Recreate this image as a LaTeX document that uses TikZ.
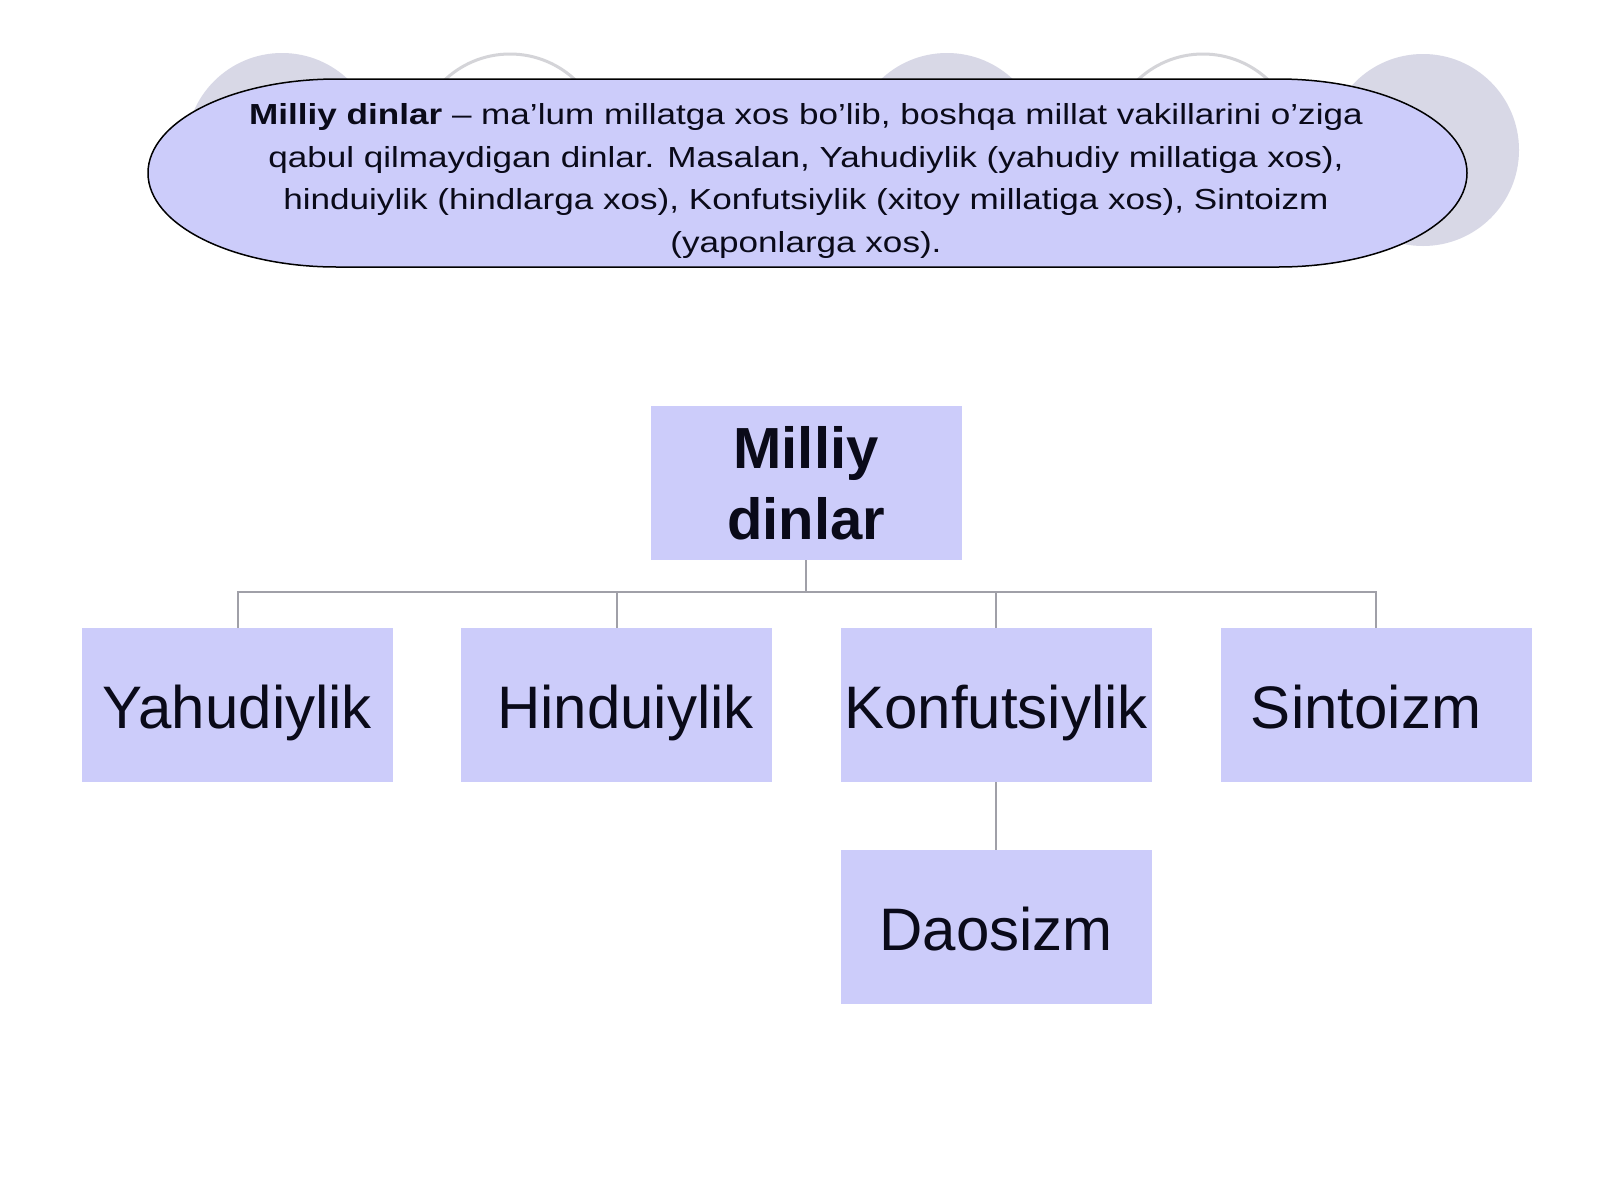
\documentclass[tikz,border=0pt]{standalone}
\usepackage{fontspec}
\setmainfont{Liberation Sans}
\newfontfamily\widefont[FakeStretch=1.21]{Liberation Sans}
\definecolor{boxfill}{RGB}{204,204,250}
\definecolor{circfill}{RGB}{216,216,230}
\definecolor{circline}{RGB}{212,212,216}
\definecolor{connc}{RGB}{160,160,168}
\definecolor{txt}{RGB}{10,10,25}
\begin{document}
\begin{tikzpicture}[x=1pt,y=-1pt,
  boxnode/.style={fill=boxfill, minimum width=311pt, minimum height=154pt, inner sep=0pt,
     text=txt, font=\fontsize{60}{72}\selectfont, text height=47pt, text depth=0pt},
  conn/.style={draw=connc, line width=2pt},
  bgcircfill/.style={fill=circfill},
  bgcircline/.style={draw=circline, line width=3pt}]
\useasboundingbox[fill=white] (0,0) rectangle (1600,1200);
% background circles
\fill[bgcircfill] (282,149) circle (96);
\draw[bgcircline] (510,149) circle (95);
\fill[bgcircfill] (947,149) circle (96);
\draw[bgcircline] (1203,149) circle (95);
\fill[bgcircfill] (1423,150) circle (96);
% oval banner
\draw[fill=boxfill, draw=black, line width=1.5pt]
  (337,79) -- (1278,79) arc[start angle=-90, end angle=90, x radius=189, y radius=94]
  -- (337,267) arc[start angle=90, end angle=270, x radius=189, y radius=94] -- cycle;
\node[anchor=center, align=center, text=txt, font=\widefont\fontsize{29}{42.8}\selectfont, inner sep=0pt] (def) at (806,181)
  {\textbf{Milliy dinlar} – ma’lum millatga xos bo’lib, boshqa millat vakillarini o’ziga\\
   qabul qilmaydigan dinlar. Masalan, Yahudiylik (yahudiy millatiga xos),\\
   hinduiylik (hindlarga xos), Konfutsiylik (xitoy millatiga xos), Sintoizm\\
   (yaponlarga xos).};
% boxes
\node[boxnode, align=center, text height=, text depth=, font=\fontsize{58}{71}\selectfont\bfseries] (top) at (806,483) {Milliy\\dinlar};
\node[boxnode] (yah) at (237.5,705) {Yahudiylik};
\node[boxnode] (hin) at (616.5,705) {\hspace*{18pt}Hinduiylik};
\node[boxnode] (kon) at (996,705) {Konfutsiylik};
\node[boxnode] (sin) at (1376,705) {Sintoizm\hspace*{20pt}};
\node[boxnode] (dao) at (996,927) {Daosizm};
% connectors
\draw[conn] (top.south) -- ++(0,32) coordinate (bus);
\draw[conn] (bus) -| (yah.north);
\draw[conn] (bus) -| (hin.north);
\draw[conn] (bus) -| (kon.north);
\draw[conn] (bus) -| (sin.north);
\draw[conn] (kon.south) -- (dao.north);
\end{tikzpicture}
\end{document}
